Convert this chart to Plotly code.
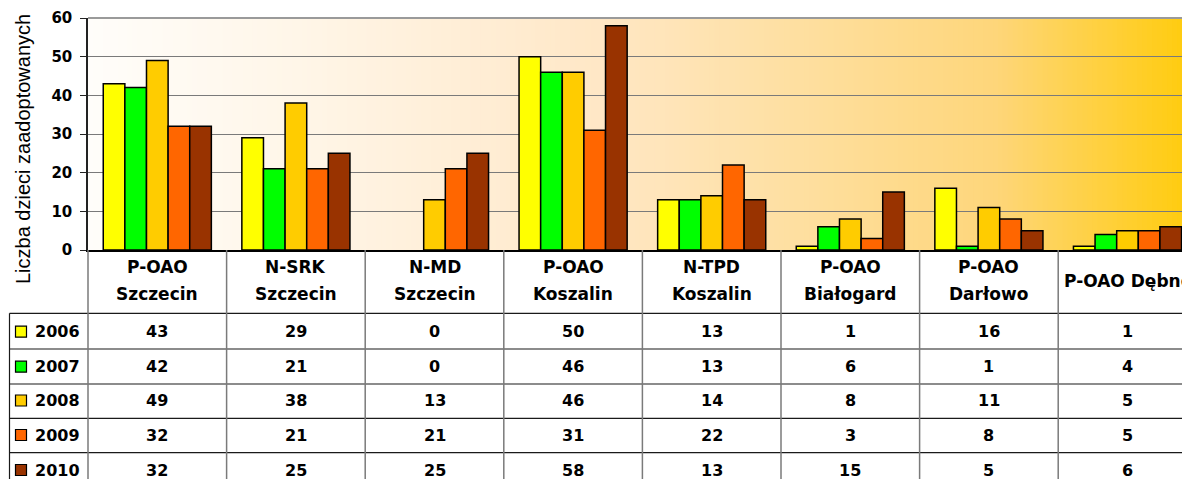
import plotly.graph_objects as go

# ---------------- data ----------------
categories = ["P-OAO Szczecin", "N-SRK Szczecin", "N-MD Szczecin", "P-OAO Koszalin",
              "N-TPD Koszalin", "P-OAO Białogard", "P-OAO Darłowo", "P-OAO Dębno"]
header_line1 = ["P-OAO", "N-SRK", "N-MD", "P-OAO", "N-TPD", "P-OAO", "P-OAO", "P-OAO Dębno"]
header_line2 = ["Szczecin", "Szczecin", "Szczecin", "Koszalin", "Koszalin", "Białogard", "Darłowo", ""]
years = ["2006", "2007", "2008", "2009", "2010"]
v2006 = [43, 29, 0, 50, 13, 1, 16, 1]
v2007 = [42, 21, 0, 46, 13, 6, 1, 4]
v2008 = [49, 38, 13, 46, 14, 8, 11, 5]
v2009 = [32, 21, 21, 31, 22, 3, 8, 5]
v2010 = [32, 25, 25, 58, 13, 15, 5, 6]
series = [v2006, v2007, v2008, v2009, v2010]
colors = ["#FFFF00", "#00FF00", "#FFCC00", "#FF6600", "#993300"]
y_title = "Liczba dzieci zaadoptowanych"
y_ticks = [0, 10, 20, 30, 40, 50, 60]

# ---------------- layout geometry (pixels) ----------------
W, H = 1182, 479
PL, PR, PT, PB = 88, 1182, 18, 250   # plot area
PW, PH = PR - PL, PB - PT
CAT_W = 138.6                        # pixel width of one category
x_hi = -0.5 + PW / CAT_W


def xp(px):
    return (px - PL) / PW


def yp(py):
    return (PB - py) / PH


fig = go.Figure()
for yr, vals, col in zip(years, series, colors):
    fig.add_trace(go.Bar(
        x=categories, y=vals, name=yr,
        marker=dict(color=col,
                    line=dict(color="#000000", width=[1.5 if v > 0 else 0 for v in vals])),
        showlegend=False, hoverinfo="skip",
    ))

shapes = []
# background gradient (white -> gold)
stops = [(0.0, (255, 253, 250)), (0.19, (255, 246, 232)), (0.38, (255, 236, 210)),
         (0.47, (255, 231, 197)), (0.65, (254, 223, 160)), (0.83, (254, 214, 122)),
         (1.0, (255, 204, 17))]


def grad(t):
    for (t0, c0), (t1, c1) in zip(stops[:-1], stops[1:]):
        if t <= t1:
            f = (t - t0) / (t1 - t0)
            return "rgb(%d,%d,%d)" % tuple(round(a + (b - a) * f) for a, b in zip(c0, c1))
    return "rgb(%d,%d,%d)" % stops[-1][1]


N = 220
for i in range(N):
    shapes.append(dict(type="rect", xref="paper", yref="paper",
                       x0=i / N, x1=(i + 1) / N + 0.002, y0=0, y1=1,
                       fillcolor=grad((i + 0.5) / N), line=dict(width=0), layer="below"))
# top border of plot area
shapes.append(dict(type="line", xref="paper", yref="paper", x0=0, x1=1, y0=1, y1=1,
                   line=dict(color="#9a9a9a", width=2)))

# ---------------- data table ----------------
row_lines = [313.3, 349, 384, 418.3, 452.7]
row_centers = [331.7, 366.7, 400.5, 435, 470]
table_bottom = 500
# horizontal lines
for ry in row_lines:
    shapes.append(dict(type="line", xref="paper", yref="paper",
                       x0=xp(9.5), x1=xp(W + 5), y0=yp(ry), y1=yp(ry),
                       line=dict(color="#1a1a1a", width=1.2)))
# legend column left edge
shapes.append(dict(type="line", xref="paper", yref="paper",
                   x0=xp(9.5), x1=xp(9.5), y0=yp(row_lines[0]), y1=yp(table_bottom),
                   line=dict(color="#1a1a1a", width=1.2)))
# category separators
for i in range(len(categories)):
    bx = PL + i * CAT_W
    shapes.append(dict(type="line", xref="paper", yref="paper",
                       x0=xp(bx), x1=xp(bx), y0=yp(PB), y1=yp(table_bottom),
                       line=dict(color="#7a7a7a", width=1.5)))

annotations = []
# header texts
for i, (l1, l2) in enumerate(zip(header_line1, header_line2)):
    cx = PL + (i + 0.5) * CAT_W
    if l2:
        annotations.append(dict(x=xp(cx), y=yp(267), text="<b>%s</b>" % l1, showarrow=False,
                                xref="paper", yref="paper", xanchor="center", yanchor="middle",
                                font=dict(family="DejaVu Sans", size=17, color="#000000")))
        annotations.append(dict(x=xp(cx), y=yp(293.5), text="<b>%s</b>" % l2, showarrow=False,
                                xref="paper", yref="paper", xanchor="center", yanchor="middle",
                                font=dict(family="DejaVu Sans", size=17, color="#000000")))
    else:
        annotations.append(dict(x=xp(cx), y=yp(280.5), text="<b>%s</b>" % l1, showarrow=False,
                                xref="paper", yref="paper", xanchor="center", yanchor="middle",
                                font=dict(family="DejaVu Sans", size=17, color="#000000")))
# values
for r, (yr, vals, col) in enumerate(zip(years, series, colors)):
    cy = row_centers[r]
    for i, v in enumerate(vals):
        cx = PL + (i + 0.5) * CAT_W
        annotations.append(dict(x=xp(cx), y=yp(cy), text="<b>%d</b>" % v, showarrow=False,
                                xref="paper", yref="paper", xanchor="center", yanchor="middle",
                                font=dict(family="DejaVu Sans", size=16, color="#000000")))
    # legend key
    shapes.append(dict(type="rect", xref="paper", yref="paper",
                       x0=xp(15.5), x1=xp(26.5), y0=yp(cy - 5.5), y1=yp(cy + 5.5),
                       fillcolor=col, line=dict(color="#000000", width=1.2)))
    annotations.append(dict(x=xp(33), y=yp(cy), text="<b>%s</b>" % yr, showarrow=False,
                            xref="paper", yref="paper", xanchor="left", yanchor="middle",
                            font=dict(family="DejaVu Sans", size=16, color="#000000")))

# y-axis title
annotations.append(dict(x=xp(23), y=yp(149), text=y_title, showarrow=False, textangle=-90,
                        xref="paper", yref="paper", xanchor="center", yanchor="middle",
                        font=dict(family="Liberation Sans, Arial", size=20, color="#000000")))

fig.update_layout(
    width=W, height=H,
    margin=dict(l=PL, r=W - PR, t=PT, b=H - PB, pad=0),
    paper_bgcolor="#FFFFFF",
    plot_bgcolor="rgba(0,0,0,0)",
    barmode="group", bargap=0.22, bargroupgap=0,
    shapes=shapes, annotations=annotations,
    showlegend=False, hovermode=False,
)
fig.update_xaxes(range=[-0.5, x_hi], showticklabels=False, ticks="", showgrid=False,
                 showline=True, linecolor="#000000", linewidth=2, zeroline=False, fixedrange=True)
fig.update_yaxes(range=[0, 60], tickvals=y_ticks, showgrid=True, gridcolor="#7a7a7a", gridwidth=1,
                 showline=True, linecolor="#222222", linewidth=1.5, ticks="outside", ticklen=6,
                 tickcolor="#222222", zeroline=False, ticklabelstandoff=5, fixedrange=True,
                 tickfont=dict(family="DejaVu Sans", size=15, color="#000000", weight="bold"))

fig.write_html(
    "out.html",
    config={"displayModeBar": False},
    post_script="document.body.style.margin='0';document.body.style.overflow='hidden';",
)
